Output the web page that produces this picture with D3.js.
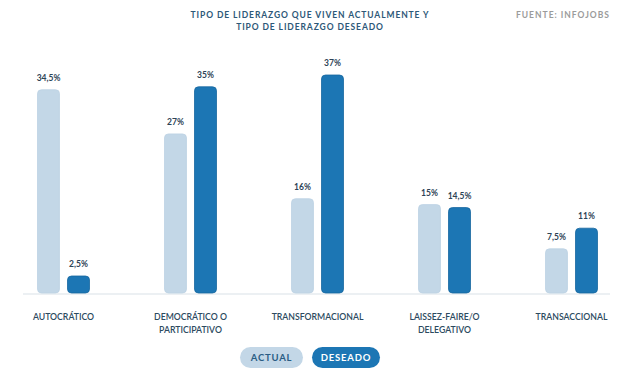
<!DOCTYPE html>
<html>
<head>
<meta charset="utf-8">
<script src="https://cdn.jsdelivr.net/npm/d3@7.9.0/dist/d3.min.js"></script>
<style>
  body { margin: 0; background: #fff; }
  svg { display: block; font-family: 'Lato', 'Open Sans', sans-serif; }
</style>
</head>
<body>
<svg id="chart" width="635" height="380"></svg>
<script>
// categorías y valores
const categories = ['AUTOCRÁTICO', 'DEMOCRÁTICO O\nPARTICIPATIVO', 'TRANSFORMACIONAL', 'LAISSEZ-FAIRE/O\nDELEGATIVO', 'TRANSACCIONAL'];
const actual = [34.5, 27, 16, 15, 7.5];
const deseado = [2.5, 35, 37, 14.5, 11];
const seriesNames = ['ACTUAL', 'DESEADO'];
const valueLabels = [['34,5%', '27%', '16%', '15%', '7,5%'], ['2,5%', '35%', '37%', '14,5%', '11%']];

const colors = { ACTUAL: '#c3d7e7', DESEADO: '#1c76b4' };
const strokes = { ACTUAL: '#bcd2e3', DESEADO: '#17679f' };

const svg = d3.select('#chart');
const baseline = 293;

const x0 = d3.scaleBand().domain(categories).range([0, 635]).padding(0);
const x1 = d3.scaleBand().domain(seriesNames).range([0, 52]).paddingInner(0.267);
const y = d3.scaleLinear().domain([0, 37]).range([baseline, 75]);

// título
const title = svg.append('text')
  .attr('x', 310).attr('y', 18)
  .attr('text-anchor', 'middle')
  .attr('fill', '#2d5878')
  .style('font-size', '8.5px').style('font-weight', 700).style('letter-spacing', '0.9px');
title.append('tspan').attr('x', 310).text('TIPO DE LIDERAZGO QUE VIVEN ACTUALMENTE Y');
title.append('tspan').attr('x', 310).attr('dy', 12).text('TIPO DE LIDERAZGO DESEADO');

svg.append('text')
  .attr('x', 610).attr('y', 18)
  .attr('text-anchor', 'end')
  .attr('fill', '#9b9b9b')
  .style('font-size', '8.5px').style('font-weight', 700).style('letter-spacing', '1px')
  .text('FUENTE: INFOJOBS');

// línea base
svg.append('line')
  .attr('x1', 23).attr('x2', 610)
  .attr('y1', baseline + 1).attr('y2', baseline + 1)
  .attr('stroke', '#e6ebef').attr('stroke-width', 1.5);

const rows = categories.map((c, i) => ({
  cat: c,
  values: [
    { key: 'ACTUAL', value: actual[i], label: valueLabels[0][i] },
    { key: 'DESEADO', value: deseado[i], label: valueLabels[1][i] }
  ]
}));

const groups = svg.append('g').selectAll('g')
  .data(rows)
  .join('g')
  .attr('transform', d => `translate(${x0(d.cat) + x0.bandwidth() / 2 - 26},0)`);

groups.selectAll('rect')
  .data(d => d.values)
  .join('rect')
  .attr('x', d => x1(d.key))
  .attr('width', x1.bandwidth())
  .attr('y', d => Math.min(y(d.value), baseline - 17))
  .attr('height', d => baseline - Math.min(y(d.value), baseline - 17))
  .attr('rx', 4)
  .attr('fill', d => colors[d.key])
  .attr('stroke', d => strokes[d.key])
  .attr('stroke-width', 0.8);

groups.selectAll('text.val')
  .data(d => d.values)
  .join('text')
  .attr('class', 'val')
  .attr('x', d => x1(d.key) + x1.bandwidth() / 2)
  .attr('y', d => Math.min(y(d.value), baseline - 17) - 9)
  .attr('text-anchor', 'middle')
  .attr('fill', '#2d4356')
  .style('font-size', '8.5px').style('font-weight', 700)
  .text(d => d.label);

// etiquetas de categoría
svg.append('g').selectAll('text')
  .data(categories)
  .join('text')
  .attr('text-anchor', 'middle')
  .attr('fill', '#2c4a60')
  .style('font-size', '8.7px').style('font-weight', 600)
  .each(function (d) {
    const cx = x0(d) + x0.bandwidth() / 2;
    d3.select(this).selectAll('tspan')
      .data(d.split('\n'))
      .join('tspan')
      .attr('x', cx)
      .attr('y', (_, i) => 319.5 + i * 13)
      .text(t => t);
  });

// leyenda
const legend = [
  { key: 'ACTUAL', x: 240, w: 63, text: '#2a5d84' },
  { key: 'DESEADO', x: 312, w: 68, text: '#ffffff' }
];
const lg = svg.append('g').selectAll('g').data(legend).join('g');
lg.append('rect')
  .attr('x', d => d.x).attr('y', 347)
  .attr('width', d => d.w).attr('height', 21)
  .attr('rx', 10.5)
  .attr('fill', d => colors[d.key]);
lg.append('text')
  .attr('x', d => d.x + d.w / 2).attr('y', 361)
  .attr('text-anchor', 'middle')
  .attr('fill', d => d.text)
  .style('font-size', '9.5px').style('font-weight', 700).style('letter-spacing', '0.8px')
  .text(d => d.key);
</script>
</body>
</html>
